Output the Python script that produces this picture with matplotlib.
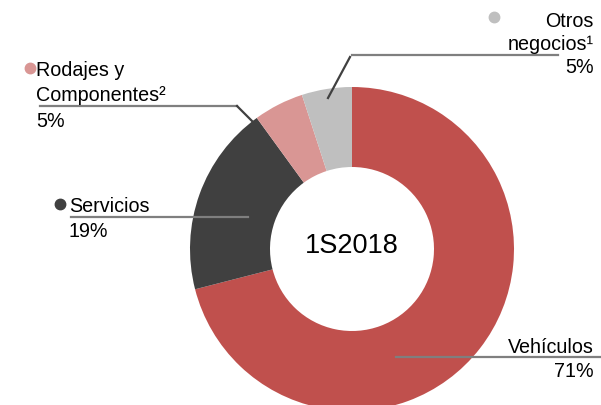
import matplotlib
matplotlib.use("Agg")
from matplotlib import pyplot as plt

plt.rcParams['font.family'] = ['Liberation Sans', 'DejaVu Sans']

categorias = ['Vehículos', 'Servicios', 'Rodajes y\nComponentes²', 'Otros\nnegocios¹']
valores = [71, 19, 5, 5]
colores = ['#C0504D', '#404040', '#D99694', '#BFBFBF']
centro_txt = '1S2018'

W, H = 601, 406


def Y(y):
    # image pixel row -> data y
    return H - y


fig = plt.figure(figsize=(W / 100, H / 100), dpi=100)
ax = fig.add_axes([0, 0, 1, 1])

cx, cy, R, r_in = 352, 250, 162, 82
ax.pie(valores, colors=colores, startangle=90, counterclock=False,
       center=(cx, Y(cy)), radius=R, frame=True,
       wedgeprops=dict(width=R - r_in, linewidth=0))
ax.set_xlim(0, W)
ax.set_ylim(0, H)
ax.set_aspect('equal')
ax.axis('off')

ax.text(cx, Y(246), centro_txt, ha='center', va='center', fontsize=19.5)

fs = 14.2
lc = '#7F7F7F'
dc = '#404040'

# Vehiculos
ax.plot([396, W], [Y(358), Y(358)], color=lc, lw=1.6)
ax.text(594, Y(353), categorias[0], ha='right', va='baseline', fontsize=fs)
ax.text(594, Y(377), f'{valores[0]}%', ha='right', va='baseline', fontsize=fs)

# Servicios
ax.plot([71, 248], [Y(218), Y(218)], color=lc, lw=1.6)
ax.plot([60], [Y(205)], 'o', ms=7.5, color=colores[1])
ax.text(69, Y(212), categorias[1], ha='left', va='baseline', fontsize=fs)
ax.text(69, Y(237), f'{valores[1]}%', ha='left', va='baseline', fontsize=fs)

# Rodajes y Componentes
ax.plot([40, 237], [Y(107), Y(107)], color=lc, lw=1.6)
ax.plot([237, 253], [Y(107), Y(123)], color=dc, lw=1.6)
ax.plot([30], [Y(69)], 'o', ms=7.5, color=colores[2])
ln = categorias[2].split('\n')
ax.text(36, Y(76), ln[0], ha='left', va='baseline', fontsize=fs)
ax.text(36, Y(101), ln[1], ha='left', va='baseline', fontsize=fs)
ax.text(36, Y(127), f'{valores[2]}%', ha='left', va='baseline', fontsize=fs)

# Otros negocios
ax.plot([352, 558], [Y(56), Y(56)], color=lc, lw=1.6)
ax.plot([350, 328], [Y(58), Y(99)], color=dc, lw=1.6)
ax.plot([494], [Y(18)], 'o', ms=7.5, color=colores[3])
ln = categorias[3].split('\n')
ax.text(594, Y(27), ln[0], ha='right', va='baseline', fontsize=fs)
ax.text(594, Y(50), ln[1], ha='right', va='baseline', fontsize=fs)
ax.text(594, Y(73), f'{valores[3]}%', ha='right', va='baseline', fontsize=fs)

fig.savefig('out.png', dpi=100, facecolor='white')
